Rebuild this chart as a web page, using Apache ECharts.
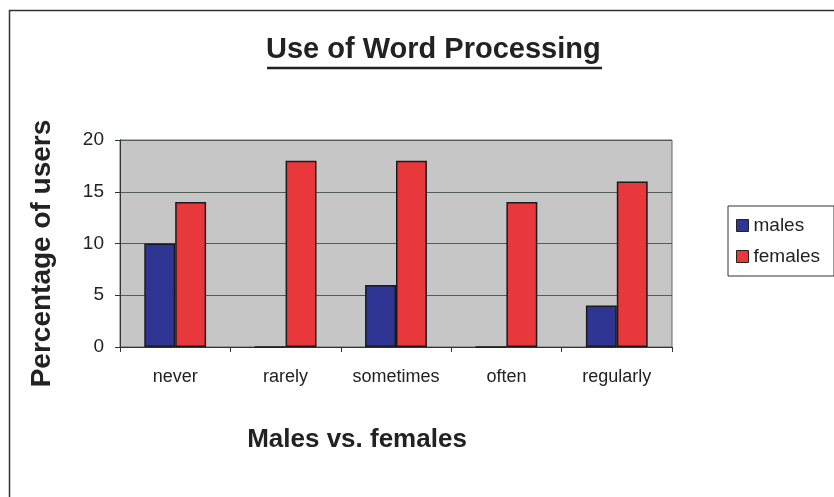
<!DOCTYPE html>
<html>
<head>
<meta charset="utf-8">
<script src="https://cdn.jsdelivr.net/npm/echarts@6/dist/echarts.min.js"></script>
<style>
  body { margin: 0; background: #fff; }
  #main { width: 834px; height: 497px; }
</style>
</head>
<body>
<div id="main"></div>
<script>
  // data
  var categories = ['never', 'rarely', 'sometimes', 'often', 'regularly'];
  var males = [10, 0, 6, 0, 4];
  var females = [14, 18, 18, 14, 16];

  var font = '"Liberation Sans", Arial, sans-serif';
  var myChart = echarts.init(document.getElementById('main'));

  var option = {
    backgroundColor: '#fff',
    textStyle: { fontFamily: font },
    animation: false,
    title: {
      text: 'Use of Word Processing',
      left: 266,
      top: 35,
      padding: 0,
      textStyle: { fontFamily: font, fontSize: 29, fontWeight: 'bold', color: '#222' }
    },
    legend: {
      orient: 'vertical',
      left: 728,
      top: 206,
      padding: [10, 14, 10, 8],
      itemGap: 12,
      itemWidth: 12,
      itemHeight: 12,
      borderColor: '#333',
      borderWidth: 1,
      backgroundColor: '#fff',
      textStyle: { fontFamily: font, fontSize: 19, color: '#222' },
      data: [
        { name: 'males', icon: 'rect', itemStyle: { borderColor: '#222', borderWidth: 1 } },
        { name: 'females', icon: 'rect', itemStyle: { borderColor: '#222', borderWidth: 1 } }
      ]
    },
    grid: {
      left: 120,
      right: 162,
      top: 140,
      bottom: 150,
      show: true,
      backgroundColor: '#c6c6c6',
      borderColor: '#666',
      borderWidth: 1
    },
    xAxis: {
      type: 'category',
      data: categories,
      name: 'Males vs. females',
      nameLocation: 'middle',
      nameGap: 80,
      nameTextStyle: { fontFamily: font, fontSize: 26, fontWeight: 'bold', color: '#222', padding: [0, 78, 0, 0] },
      axisLine: { lineStyle: { color: '#333', width: 1 } },
      axisTick: { show: true, interval: 0, length: 5, lineStyle: { color: '#333' } },
      axisLabel: { interval: 0, fontFamily: font, fontSize: 18, color: '#222', margin: 21 }
    },
    yAxis: {
      type: 'value',
      min: 0,
      max: 20,
      interval: 5,
      name: 'Percentage of users',
      nameLocation: 'middle',
      nameGap: 64,
      nameTextStyle: { fontFamily: font, fontSize: 28, fontWeight: 'bold', color: '#222', padding: [0, 20, 0, 0] },
      axisLine: { show: true, lineStyle: { color: '#333', width: 1 } },
      axisTick: { show: true, length: 5, lineStyle: { color: '#333' } },
      axisLabel: { fontFamily: font, fontSize: 19, color: '#222', margin: 16 },
      splitLine: { lineStyle: { color: '#4f5f55', width: 1 } }
    },
    series: [
      {
        name: 'males',
        type: 'bar',
        data: males,
        barGap: '0%',
        barCategoryGap: '44%',
        itemStyle: { color: '#2f3593', borderColor: '#1a1a1a', borderWidth: 1.5 }
      },
      {
        name: 'females',
        type: 'bar',
        data: females,
        itemStyle: { color: '#e8383c', borderColor: '#1a1a1a', borderWidth: 1.5 }
      }
    ],
    graphic: [
      {
        type: 'rect',
        shape: { x: 9.5, y: 10.5, width: 900, height: 600 },
        style: { fill: 'none', stroke: '#333', lineWidth: 1.5 },
        silent: true
      },
      {
        type: 'line',
        shape: { x1: 267, y1: 68, x2: 602, y2: 68 },
        style: { stroke: '#222', lineWidth: 2.5 },
        silent: true
      }
    ]
  };

  myChart.setOption(option);
</script>
</body>
</html>
